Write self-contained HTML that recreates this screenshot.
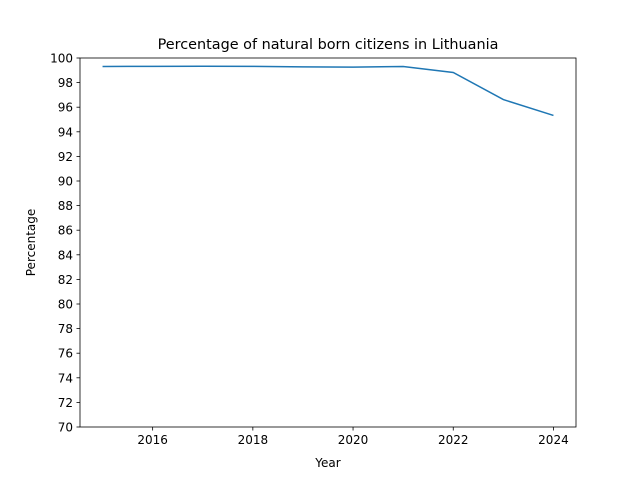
<!DOCTYPE html>
<html><head><meta charset="utf-8"><style>
body{margin:0;background:#fff;}
svg{display:block;font-family:"DejaVu Sans","Liberation Sans",sans-serif;}
</style></head><body>
<svg id="chart" width="640" height="480">
<rect x="0" y="0" width="640" height="480" fill="#fff"/>
<text x="328" y="49" text-anchor="middle" font-size="14.4">Percentage of natural born citizens in Lithuania</text>
<g id="axes"></g>
<text x="328" y="467" text-anchor="middle" font-size="12">Year</text>
<text transform="translate(35,242.5) rotate(-90)" text-anchor="middle" font-size="12">Percentage</text>
</svg>
<script>
const years = [2015,2016,2017,2018,2019,2020,2021,2022,2023,2024];
const values = [99.31,99.32,99.33,99.32,99.28,99.26,99.31,98.82,96.62,95.33];
const xTicks = [2016,2018,2020,2022,2024];
const yTicks = [70,72,74,76,78,80,82,84,86,88,90,92,94,96,98,100];
const L=80,R=576,T=58,B=427;
const xMin=2014.55,xMax=2024.45,yMin=70,yMax=100;
const sx=v=>L+(v-xMin)/(xMax-xMin)*(R-L);
const sy=v=>B-(v-yMin)/(yMax-yMin)*(B-T);
const NS="http://www.w3.org/2000/svg";
const g=document.getElementById('axes');
function mk(t,a,p){const e=document.createElementNS(NS,t);for(const k in a)e.setAttribute(k,a[k]);(p||g).appendChild(e);return e;}
xTicks.forEach(v=>{
 const l=mk('line',{x1:sx(v),x2:sx(v),y1:B,y2:B+3.5,stroke:'#000','stroke-width':0.8});
 
 
 const t=mk('text',{x:sx(v),y:B+17,'text-anchor':'middle','font-size':12});
 t.textContent=v;
 
 
});
yTicks.forEach(v=>{
 const l=mk('line',{x1:L-3.5,x2:L,y1:sy(v),y2:sy(v),stroke:'#000','stroke-width':0.8});
 
 
 const t=mk('text',{x:L-7,y:sy(v)+4.5,'text-anchor':'end','font-size':12});
 t.textContent=v;
 
 
});
const path=mk('polyline',{points:years.map((y,i)=>sx(y)+','+sy(values[i])).join(' '),fill:'none',stroke:'#1f77b4','stroke-width':1.5});


const f=mk('rect',{x:L,y:T,width:R-L,height:B-T,fill:'none',stroke:'#000','stroke-width':0.8});


</script>
</body></html>
